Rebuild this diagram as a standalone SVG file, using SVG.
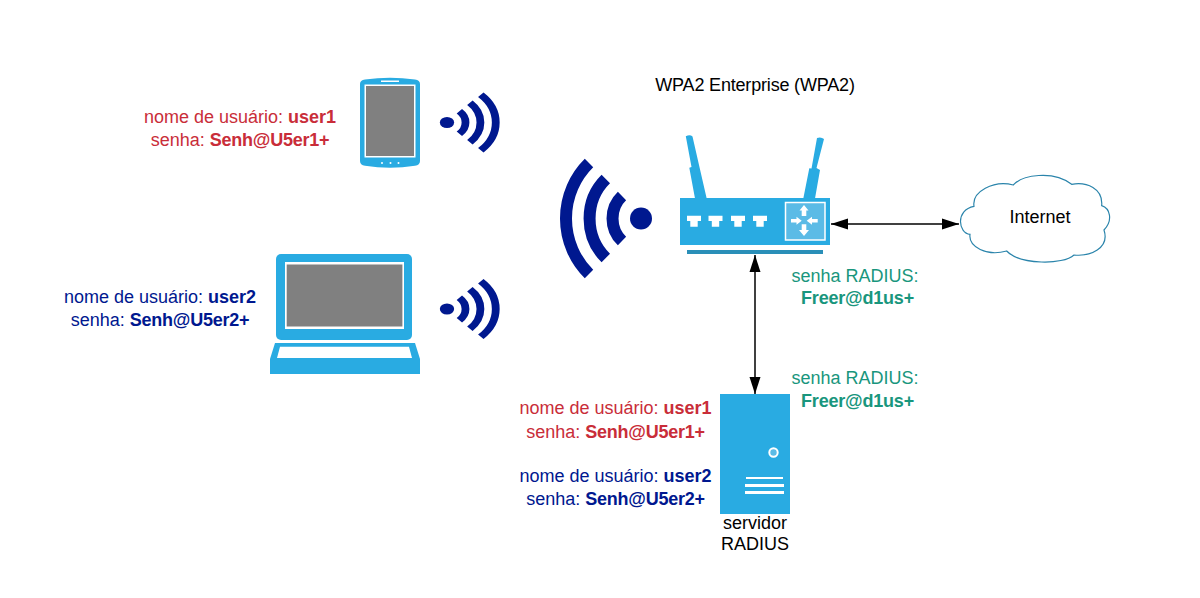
<svg xmlns="http://www.w3.org/2000/svg" xmlns:xlink="http://www.w3.org/1999/xlink" width="1200" height="598" viewBox="0 0 1200 598">
<style>
text{font-family:"Liberation Sans",Arial,sans-serif;font-size:18px;text-anchor:middle}
.b{font-weight:bold}
.p{font-weight:bold;letter-spacing:-0.25px}
.red{fill:#c92d39}.blue{fill:#00188f}.green{fill:#19967d}.blk{fill:#000}
.dev{fill:#29abe2}
.w{fill:#fff}
.g{fill:#808080}
.arc{fill:none;stroke:#00188f;stroke-width:12}
.con{stroke:#000;stroke-width:1.5;fill:none;marker-start:url(#ah);marker-end:url(#ah)}
</style>
<defs>
<marker id="ah" markerUnits="userSpaceOnUse" markerWidth="18" markerHeight="12" refX="17" refY="6" orient="auto-start-reverse"><path d="M0 0.500L17 6L0 11.500Z" fill="#000"/></marker>
<g id="wifi">
<circle cx="0" cy="0" r="11" fill="#00188f"/>
<path class="arc" d="M-19-22.500A28 30 0 0 0-19 22.500"/>
<path class="arc" d="M-35.200-39.500A51 54 0 0 0-35.200 39.500"/>
<path class="arc" d="M-52-55.500A75 77 0 0 0-52 55.500"/>
</g>
<path id="port" d="M0 0H14V5.300H10.700V11H3.300V5.300H0Z" fill="#fff"/>
</defs>
<g id="connectors">
<path class="con" d="M831 224H959"/>
<path class="con" d="M755 255V394"/>
</g>
<g id="tablet">
<path class="dev" d="M360 84Q360 80 365 79.500Q390 76 415 79.500Q420 80 420 84V161Q420 165 415 165.800Q390 169.500 365 165.800Q360 165 360 161Z"/>
<rect class="w" x="364.500" y="84.500" width="51" height="73"/>
<rect class="g" x="366" y="86" width="48" height="70"/>
<rect class="w" x="381" y="80.500" width="18" height="1.500"/>
<circle class="w" cx="382" cy="163" r="1"/><circle class="w" cx="390.500" cy="163" r="1"/><circle class="w" cx="398.500" cy="163" r="1"/>
</g>
<g id="wifi-tablet"><use xlink:href="#wifi" href="#wifi" transform="translate(447 122.500) scale(-0.65 0.5)"/></g>
<g id="laptop">
<rect class="dev" x="276" y="254" width="136" height="86" rx="5"/>
<rect class="w" x="285" y="262" width="119" height="67"/>
<rect class="g" x="286.700" y="264.500" width="115.700" height="62"/>
<path class="dev" d="M275 343H415L420 359V374H270V359Z"/>
<path class="w" d="M280 346.800H409L412 358H277Z"/>
</g>
<g id="wifi-laptop"><use xlink:href="#wifi" href="#wifi" transform="translate(447 309) scale(-0.65 0.5)"/></g>
<g id="wifi-router"><use xlink:href="#wifi" href="#wifi" transform="translate(641 218.500)"/></g>
<g id="router">
<path class="dev" d="M685.800 136.200Q690 134 692.500 136.500L699 165L706.700 198.500H695L689.300 167.700L691.500 167Z"/>
<path class="dev" d="M817 138Q821 136.500 824 139L816.500 168L820 170L815 198.500H803.300L809.300 168.300L811.500 168.500Z"/>
<rect class="dev" x="680" y="198" width="150" height="47"/>
<rect x="687" y="250" width="136" height="4" fill="#2a8fb8"/>
<use href="#port" x="687" y="215.700"/><use href="#port" x="708.500" y="215.700"/><use href="#port" x="731" y="215.700"/><use href="#port" x="753" y="215.700"/>
<rect x="785.500" y="202.500" width="39.500" height="37.500" fill="#5bbbe6" stroke="#fff" stroke-width="1.500"/>
<path class="w" d="M804 205L808.500 210.500H806.300V216H801.700V210.500H799.500Z"/>
<path class="w" d="M804 236L809 230H806.300V224.300H801.700V230H799Z"/>
<path class="w" d="M791 219H796.500V216.800L801.700 220.800L796.500 224.800V222.600H791Z"/>
<path class="w" d="M817.700 219H812V216.800L806.700 220.800L812 224.800V222.600H817.700Z"/>
</g>
<g id="internet">
<path transform="translate(950 165) scale(0.3333)" fill="#fff" stroke="#2a84ab" stroke-width="3.500" d="M190 60C215 30 310 15 365 58C410 50 460 70 455 122C480 130 490 165 462 195C480 250 420 275 372 270C340 300 210 300 170 258C110 275 55 245 60 208C25 205 15 135 72 124C65 80 130 45 190 60Z"/>
<text class="blk" x="1040" y="223">Internet</text>
</g>
<g id="server">
<rect class="dev" x="720" y="394" width="70" height="120"/>
<circle cx="773.500" cy="452.500" r="4.200" fill="#5bbbe6" stroke="#fff" stroke-width="2"/>
<rect class="w" x="746" y="477" width="37" height="2"/>
<rect class="w" x="745" y="484" width="39" height="3"/>
<rect class="w" x="745" y="491" width="39" height="3"/>
<text class="blk" x="755" y="529">servidor</text>
<text class="blk" x="755" y="550">RADIUS</text>
</g>
<g id="labels">
<text class="blk" x="755" y="91" style="letter-spacing:-0.18px">WPA2 Enterprise (WPA2)</text>
<text class="red" x="240" y="123">nome de usuário: <tspan class="b">user1</tspan></text>
<text class="red" x="240" y="146">senha: <tspan class="p">Senh@U5er1+</tspan></text>
<text class="blue" x="160" y="303">nome de usuário: <tspan class="b">user2</tspan></text>
<text class="blue" x="160" y="326">senha: <tspan class="p">Senh@U5er2+</tspan></text>
<text class="green" x="855" y="282">senha RADIUS:</text>
<text class="green b" x="857.500" y="304" style="letter-spacing:-0.2px">Freer@d1us+</text>
<text class="green" x="855" y="384">senha RADIUS:</text>
<text class="green b" x="857.500" y="407" style="letter-spacing:-0.2px">Freer@d1us+</text>
<text class="red" x="615.500" y="414">nome de usuário: <tspan class="b">user1</tspan></text>
<text class="red" x="615.500" y="438">senha: <tspan class="p">Senh@U5er1+</tspan></text>
<text class="blue" x="615.500" y="482">nome de usuário: <tspan class="b">user2</tspan></text>
<text class="blue" x="615.500" y="505">senha: <tspan class="p">Senh@U5er2+</tspan></text>
</g>
</svg>
